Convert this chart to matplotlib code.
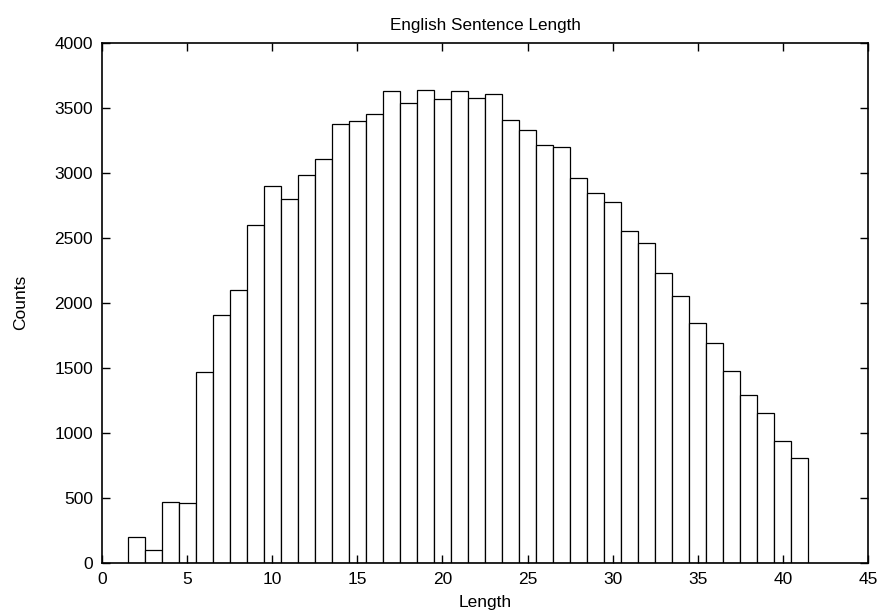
import matplotlib.pyplot as plt

plt.rcParams['font.family'] = ['Liberation Sans', 'DejaVu Sans']

# sentence length (words) and number of sentences
lengths = list(range(2, 42))
counts = [200, 97, 469, 461, 1469, 1902, 2100, 2600, 2900, 2800,
          2981, 3107, 3378, 3401, 3453, 3632, 3535, 3640, 3568, 3627,
          3573, 3607, 3407, 3325, 3215, 3199, 2960, 2842, 2771, 2553,
          2461, 2232, 2050, 1843, 1692, 1476, 1289, 1150, 935, 802]

x_ticks = [0, 5, 10, 15, 20, 25, 30, 35, 40, 45]
y_ticks = [0, 500, 1000, 1500, 2000, 2500, 3000, 3500, 4000]

fig = plt.figure(figsize=(8.83, 6.14), dpi=100)
ax = fig.add_axes([102 / 883, 1 - 562.7 / 614, 766 / 883, 520 / 614])

ax.bar(lengths, counts, width=1.0, color='white', edgecolor='black', linewidth=0.9)

ax.set_xlim(0, 45)
ax.set_ylim(0, 4000)
ax.set_xticks(x_ticks)
ax.set_yticks(y_ticks)
ax.set_axisbelow(False)
ax.tick_params(direction='in', length=6, width=1, top=True, right=True,
               labelsize=12.5, pad=6.5)
for s in ax.spines.values():
    s.set_linewidth(1.2)

ax.set_title('English Sentence Length', fontsize=12.3, pad=9)
ax.set_xlabel('Length', fontsize=12.5, labelpad=6)
ax.set_ylabel('Counts', fontsize=12.5, labelpad=19)

fig.savefig('out.png', dpi=100)
